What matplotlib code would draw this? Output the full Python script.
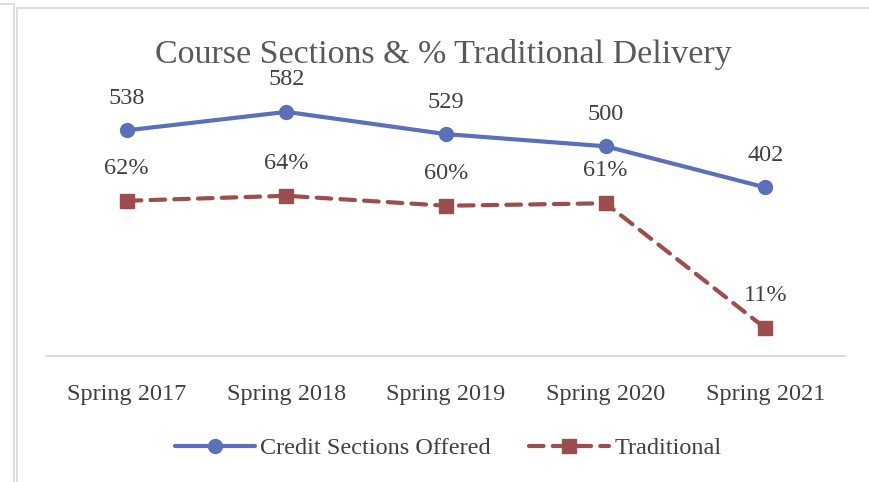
import matplotlib
matplotlib.use("Agg")
import matplotlib.pyplot as plt
from matplotlib.lines import Line2D

categories = ["Spring 2017", "Spring 2018", "Spring 2019", "Spring 2020", "Spring 2021"]
sections = [538, 582, 529, 500, 402]
traditional = [0.62, 0.64, 0.60, 0.61, 0.11]
title = "Course Sections & % Traditional Delivery"

W, H = 869, 482
DPI = 100
fig = plt.figure(figsize=(W / DPI, H / DPI), dpi=DPI)
fig.patch.set_facecolor("white")

FONT = ["Liberation Serif", "DejaVu Serif"]
TXT = "#404040"
BLUE = "#5B70B8"
RED = "#9C4D4D"
FS = 17.5

def fx(px):
    return px / W

def fy(py):
    return 1 - py / H

# plot area
left, right, top, bottom = 47, 845, 64.5, 356
ax = fig.add_axes([fx(left), fy(bottom), fx(right) - fx(left), fy(top) - fy(bottom)])
ax2 = ax.twinx()

x = list(range(len(categories)))
l1, = ax.plot(x, sections, color=BLUE, lw=3.0, marker="o", ms=10,
              markerfacecolor=BLUE, markeredgecolor=BLUE, solid_capstyle="round",
              label="Credit Sections Offered", zorder=3)
l2, = ax2.plot(x, traditional, color=RED, lw=3.0, ls=(0, (3.5, 2.2)), marker="s", ms=9.5,
               markerfacecolor=RED, markeredgecolor=RED, dash_capstyle="round",
               label="Traditional", zorder=3)

ax.set_xlim(-0.5, len(categories) - 0.5)
ax.set_ylim(0, 695)
ax2.set_ylim(-0.002, 1.166)

for a in (ax, ax2):
    a.set_yticks([])
    for s in ("left", "right", "top"):
        a.spines[s].set_visible(False)
    a.patch.set_visible(False)
ax.spines["bottom"].set_color("#D9D9D9")
ax.spines["bottom"].set_linewidth(1.5)
ax2.spines["bottom"].set_visible(False)

ax.set_xticks(x)
ax.set_xticklabels(categories, fontfamily=FONT, fontsize=FS, color=TXT)
ax.tick_params(axis="x", length=0, pad=20.5)

for xi, v in zip(x, sections):
    ax.annotate(f"{v}", (xi, v), xytext=(0, 23), textcoords="offset points",
                ha="center", va="center", fontfamily=FONT, fontsize=FS, color=TXT)
for xi, v in zip(x, traditional):
    ax2.annotate(f"{v:.0%}", (xi, v), xytext=(0, 23.5), textcoords="offset points",
                 ha="center", va="center", fontfamily=FONT, fontsize=FS, color=TXT)

fig.text(fx(443), fy(54), title, ha="center", va="center", fontfamily=FONT,
         fontsize=24.5, color="#595959")

leg = fig.legend(handles=[l1, l2], loc="center", bbox_to_anchor=(fx(448), fy(448)),
                 ncol=2, frameon=False, prop={"family": FONT, "size": 17.5},
                 handlelength=3.3, columnspacing=1.6, handletextpad=0.2)
for t in leg.get_texts():
    t.set_color(TXT)

# decorative frame lines
bc = "#D9D9D9"
fig.add_artist(Line2D([fx(0), fx(14)], [fy(4), fy(4)], color=bc, lw=1.2))
fig.add_artist(Line2D([fx(14), fx(14)], [fy(4), fy(482)], color=bc, lw=1.2))
fig.add_artist(Line2D([fx(17), fx(17)], [fy(8), fy(482)], color=bc, lw=1.2))
fig.add_artist(Line2D([fx(17), fx(868)], [fy(8), fy(8)], color=bc, lw=1.2))

fig.savefig("out.png", dpi=DPI, facecolor="white")
